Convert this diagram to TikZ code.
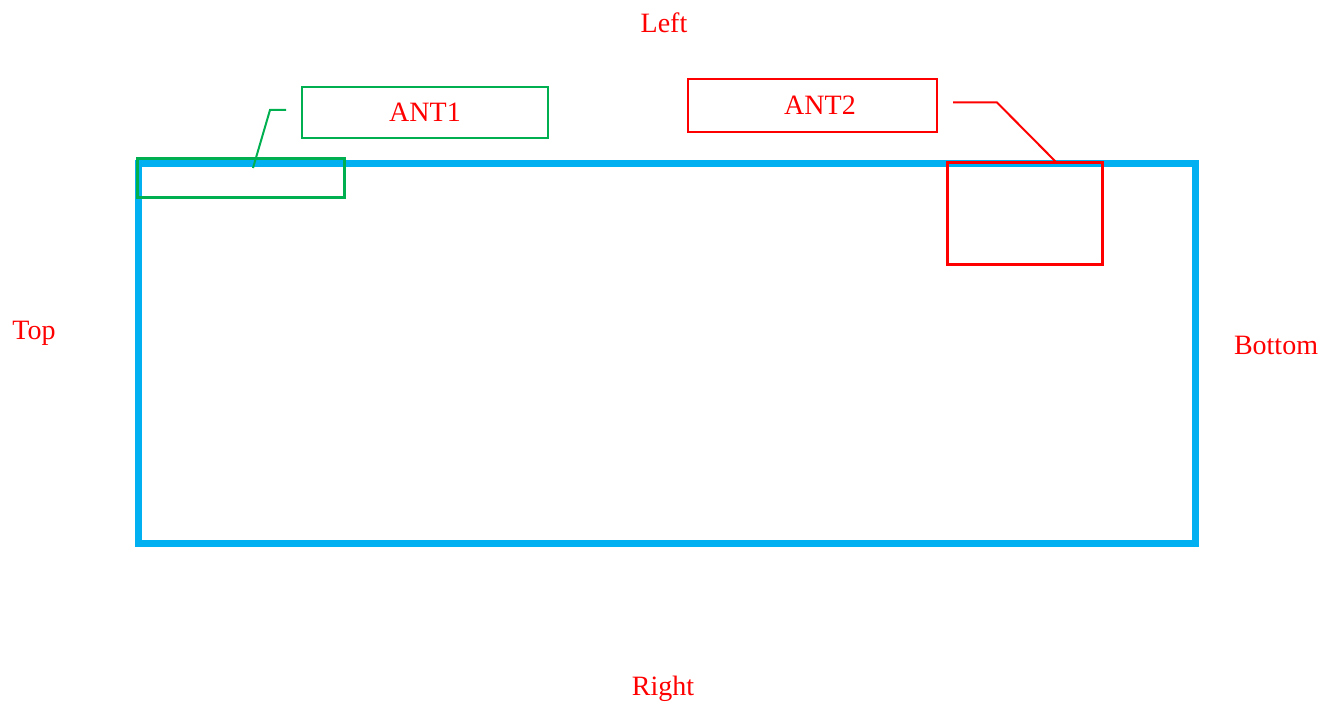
\documentclass[tikz,border=0pt]{standalone}
\usepackage{fontspec}
\setmainfont{Liberation Serif}
\definecolor{pcbblue}{HTML}{00B0F0}
\definecolor{antgreen}{HTML}{00B050}
\definecolor{antred}{HTML}{FF0000}
\begin{document}
\begin{tikzpicture}[x=1pt,y=-1pt,
  lbl/.style={text=antred,font=\fontsize{28}{30}\selectfont,inner sep=0pt},
  labelbox/.style={draw=#1,line width=2pt,text=antred,font=\fontsize{28}{30}\selectfont,inner sep=0pt},
  antbox/.style={draw=#1,line width=3pt,inner sep=0pt}]
\useasboundingbox (0,0) rectangle (1324,703);
% board outline
\draw[pcbblue,line width=7pt] (138.5,164) rectangle (1195.5,543.5);
% antenna areas
\node[antbox=antgreen,minimum width=207pt,minimum height=39pt] (a1area) at (240.5,178.5) {};
\node[antbox=antred,minimum width=155pt,minimum height=101pt] (a2area) at (1024.5,213.5) {};
% label boxes
\node[labelbox=antgreen,minimum width=246pt,minimum height=51pt] (ant1) at (425,112.5) {ANT1};
\node[labelbox=antred,minimum width=249pt,minimum height=53pt] (ant2) at (812.5,105.5) {\hspace*{15pt}ANT2};
% leaders
\coordinate (g1) at (286,110);
\coordinate (g2) at (270,110);
\coordinate (g3) at (253,168);
\draw[antgreen,line width=2pt] (g1) -- (g2) -- (g3);
\coordinate (r1) at (953,102.5);
\coordinate (r2) at (997,102.5);
\coordinate (r3) at (1056,162);
\draw[antred,line width=2pt] (r1) -- (r2) -- (r3);
% side labels
\node[lbl] (left) at (664,23) {Left};
\node[lbl] (top) at (34,333) {Top};
\node[lbl] (bottom) at (1276,345) {Bottom};
\node[lbl] (right) at (663,689) {Right};
\end{tikzpicture}
\end{document}
